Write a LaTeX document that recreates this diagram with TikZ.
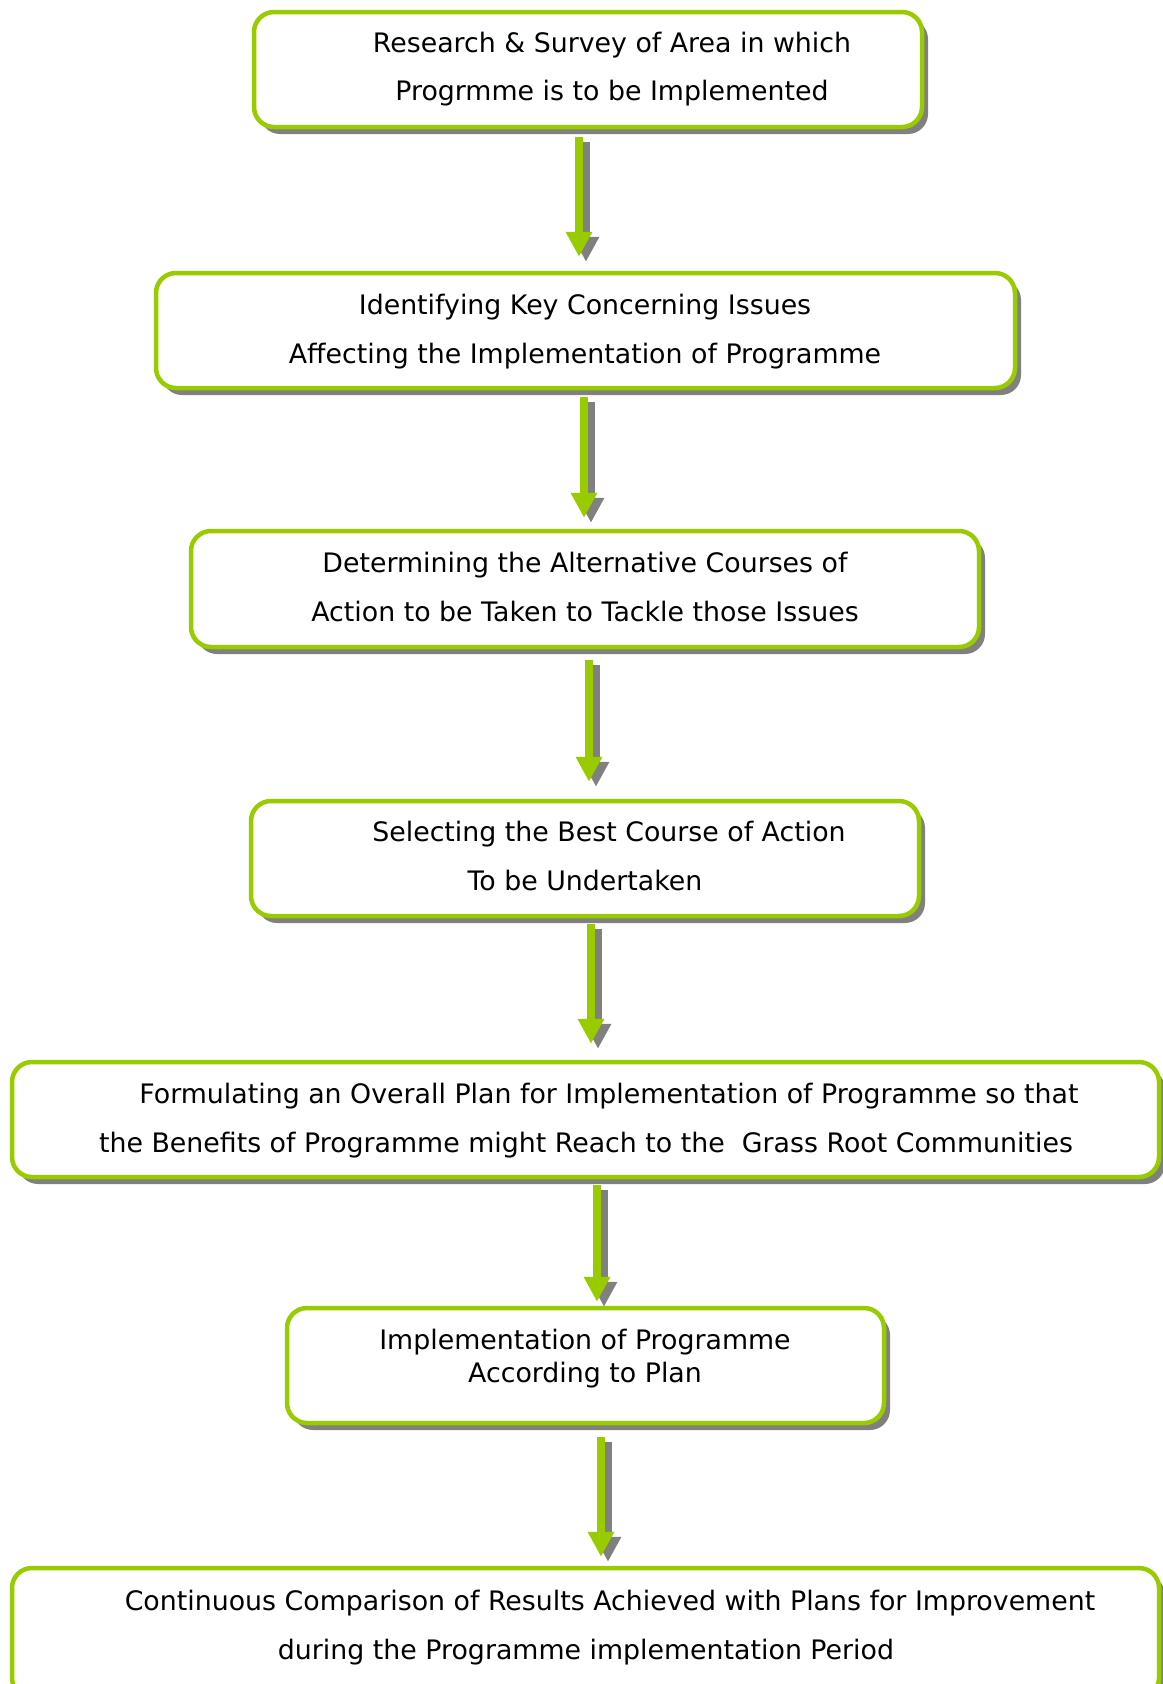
\documentclass[tikz,border=0pt]{standalone}
\usepackage{fontspec}
\setmainfont{DejaVu Sans}
\usetikzlibrary{shadows,arrows.meta,calc}
\definecolor{lgreen}{RGB}{153,204,0}
\definecolor{shgray}{RGB}{128,128,128}
\tikzset{
  box/.style={draw=lgreen, line width=4.5pt, rounded corners=20pt, fill=white, inner sep=0pt,
     drop shadow={shadow xshift=6pt, shadow yshift=-7pt, fill=shgray, opacity=1}},
  txt/.style={font=\fontsize{26.8}{32}\selectfont, inner sep=0pt, text height=20pt, text depth=6pt, yshift=-2pt},
  arrg/.style={draw=lgreen, line width=8pt, -{Triangle[width=25pt,length=25pt]}},
  arrs/.style={draw=shgray, line width=8pt, -{Triangle[width=25pt,length=25pt]}},
}
\begin{document}
\begin{tikzpicture}[x=1pt,y=-1pt]
\useasboundingbox (0,0) rectangle (1162,1684);
\fill[white] (0,0) rectangle (1162,1684);

% boxes
\node[box, minimum width=668pt, minimum height=115pt] (b1) at (588,69.5) {};
\node[box, minimum width=859pt, minimum height=115pt] (b2) at (585.5,330.5) {};
\node[box, minimum width=788pt, minimum height=116pt] (b3) at (585,589) {};
\node[box, minimum width=668pt, minimum height=115pt] (b4) at (585,858.5) {};
\node[box, minimum width=1147pt, minimum height=115pt] (b5) at (585.5,1119.5) {};
\node[box, minimum width=597pt, minimum height=115pt] (b6) at (585.5,1365.5) {};
\node[box, minimum width=1147pt, minimum height=130pt] (b7) at (585.5,1633) {};

% texts
\node[txt] (t1a) at (612,43) {Research \& Survey of Area in which};
\node[txt] (t1b) at (612,91) {Progrmme is to be Implemented};
\node[txt] (t2a) at (585,305) {Identifying Key Concerning Issues};
\node[txt] (t2b) at (585,354) {Affecting the Implementation of Programme};
\node[txt] (t3a) at (585,563) {Determining the Alternative Courses of};
\node[txt] (t3b) at (585,612) {Action to be Taken to Tackle those Issues};
\node[txt] (t4a) at (609,832) {Selecting the Best Course of Action};
\node[txt] (t4b) at (585,881) {To be Undertaken};
\node[txt] (t5a) at (609,1094) {Formulating an Overall Plan for Implementation of Programme so that};
\node[txt] (t5b) at (586,1143) {the Benefits of Programme might Reach to the\ \ Grass Root Communities};
\node[txt] (t6a) at (585,1340) {Implementation of Programme};
\node[txt] (t6b) at (585,1373) {According to Plan};
\node[txt] (t7a) at (610,1601) {Continuous Comparison of Results Achieved with Plans for Improvement};
\node[txt] (t7b) at (586,1650) {during the Programme implementation Period};

% arrows
\path ($(b1.south)+(-9,8)$) coordinate (s1);
\draw[arrs] ([shift={(7pt,-5pt)}]s1) -- ([shift={(7pt,9pt)}]s1 |- b2.north);
\draw[arrg] (s1) -- ([yshift=14pt]s1 |- b2.north);

\path ($(b2.south)+(-1.5,7)$) coordinate (s2);
\draw[arrs] ([shift={(7pt,-5pt)}]s2) -- ([shift={(7pt,6pt)}]s2 |- b3.north);
\draw[arrg] (s2) -- ([yshift=11pt]s2 |- b3.north);

\path ($(b3.south)+(4,11)$) coordinate (s3);
\draw[arrs] ([shift={(7pt,-5pt)}]s3) -- ([shift={(7pt,12pt)}]s3 |- b4.north);
\draw[arrg] (s3) -- ([yshift=17pt]s3 |- b4.north);

\path ($(b4.south)+(6,6)$) coordinate (s4);
\draw[arrs] ([shift={(7pt,-5pt)}]s4) -- ([shift={(7pt,11pt)}]s4 |- b5.north);
\draw[arrg] (s4) -- ([yshift=16pt]s4 |- b5.north);

\path ($(b5.south)+(11.5,6)$) coordinate (s5);
\draw[arrs] ([shift={(7pt,-5pt)}]s5) -- ([shift={(7pt,-1pt)}]s5 |- b6.north);
\draw[arrg] (s5) -- ([yshift=4pt]s5 |- b6.north);

\path ($(b6.south)+(15.5,12)$) coordinate (s6);
\draw[arrs] ([shift={(7pt,-5pt)}]s6) -- ([shift={(7pt,4pt)}]s6 |- b7.north);
\draw[arrg] (s6) -- ([yshift=9pt]s6 |- b7.north);
\end{tikzpicture}
\end{document}
